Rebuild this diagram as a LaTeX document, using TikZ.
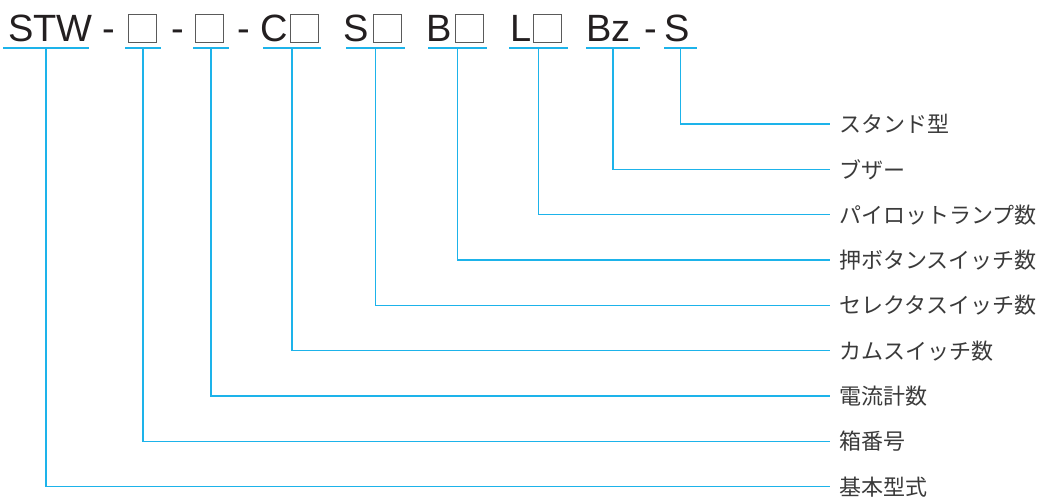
\documentclass[tikz,border=0pt]{standalone}
\usepackage{fontspec}
\setmainfont{Liberation Sans}
\newfontfamily\jpfont{Noto Sans CJK JP}
\usetikzlibrary{calc}
\definecolor{leadcyan}{HTML}{1DB3EA}
\definecolor{inkgray}{HTML}{231F20}
\definecolor{boxgray}{HTML}{5A5A5A}
\definecolor{itemgray}{HTML}{3A3A3A}

\begin{document}
\begin{tikzpicture}[x=0.5pt,y=-0.5pt]
		\tikzstyle {code} = [anchor=base west, inner sep=0pt, text=inkgray, font=\fontsize{19}{21}\selectfont]
		\tikzstyle {slot} = [draw=boxgray, line width=0.6pt, minimum size=14.2pt, inner sep=0pt]
		\tikzstyle {under line} = [draw=leadcyan, line width=0.7pt]
		\tikzstyle {lead} = [draw=leadcyan, line width=0.65pt]
		\tikzstyle {item} = [anchor=west, inner xsep=4.5pt, inner ysep=0pt, text=itemgray, font=\jpfont\fontsize{11}{13}\selectfont]

		\useasboundingbox (0,0) rectangle (1046,497);

		% model code
		\node[code] (stw) at (8,42) {STW};
		\node[code] (dash1) at (102,42) {-};
		\node[slot] (box1) at (142.5,28.5) {};
		\node[code] (dash2) at (171,42) {-};
		\node[slot] (box2) at (209.5,28.5) {};
		\node[code] (dash3) at (237,42) {-};
		\node[code] (cam) at (260,42) {C};
		\node[slot] (box3) at (304.5,28.5) {};
		\node[code] (sel) at (343,42) {S};
		\node[slot] (box4) at (387.5,28.5) {};
		\node[code] (push) at (426,42) {B};
		\node[slot] (box5) at (469.5,28.5) {};
		\node[code] (lamp) at (510,42) {L};
		\node[slot] (box6) at (547.5,28.5) {};
		\node[code] (buzz) at (586,42) {Bz};
		\node[code] (dash4) at (644,42) {-};
		\node[code] (stand) at (664,42) {S};

		% underlines
		\coordinate (u1l) at (3,48);   \coordinate (u1r) at (89,48);
		\coordinate (u2l) at (125,48); \coordinate (u2r) at (161,48);
		\coordinate (u3l) at (193,48); \coordinate (u3r) at (229,48);
		\coordinate (u4l) at (263,48); \coordinate (u4r) at (321,48);
		\coordinate (u5l) at (346,48); \coordinate (u5r) at (405,48);
		\coordinate (u6l) at (428,48); \coordinate (u6r) at (487,48);
		\coordinate (u7l) at (509,48); \coordinate (u7r) at (568,48);
		\coordinate (u8l) at (586,48); \coordinate (u8r) at (640,48);
		\coordinate (u9l) at (664,48); \coordinate (u9r) at (697,48);

		\draw[under line] (u1l) -- (u1r);
		\draw[under line] (u2l) -- (u2r);
		\draw[under line] (u3l) -- (u3r);
		\draw[under line] (u4l) -- (u4r);
		\draw[under line] (u5l) -- (u5r);
		\draw[under line] (u6l) -- (u6r);
		\draw[under line] (u7l) -- (u7r);
		\draw[under line] (u8l) -- (u8r);
		\draw[under line] (u9l) -- (u9r);

		% meanings
		\node[item] (stand-t) at (830,124) {スタンド型};
		\node[item] (buzz-t) at (830,169.3) {ブザー};
		\node[item] (lamp-t) at (830,214.7) {パイロットランプ数};
		\node[item] (push-t) at (830,260) {押ボタンスイッチ数};
		\node[item] (sel-t) at (830,305.3) {セレクタスイッチ数};
		\node[item] (cam-t) at (830,350.7) {カムスイッチ数};
		\node[item] (amm-t) at (830,396) {電流計数};
		\node[item] (box-t) at (830,441.3) {箱番号};
		\node[item] (base-t) at (830,486.7) {基本型式};

		% leaders
		\draw[lead] ($(u9l)!0.5!(u9r)$) |- (stand-t.west);
		\draw[lead] ($(u8l)!0.5!(u8r)$) |- (buzz-t.west);
		\draw[lead] ($(u7l)!0.5!(u7r)$) |- (lamp-t.west);
		\draw[lead] ($(u6l)!0.5!(u6r)$) |- (push-t.west);
		\draw[lead] ($(u5l)!0.5!(u5r)$) |- (sel-t.west);
		\draw[lead] ($(u4l)!0.5!(u4r)$) |- (cam-t.west);
		\draw[lead] ($(u3l)!0.5!(u3r)$) |- (amm-t.west);
		\draw[lead] ($(u2l)!0.5!(u2r)$) |- (box-t.west);
		\draw[lead] ($(u1l)!0.5!(u1r)$) |- (base-t.west);
\end{tikzpicture}
\end{document}
